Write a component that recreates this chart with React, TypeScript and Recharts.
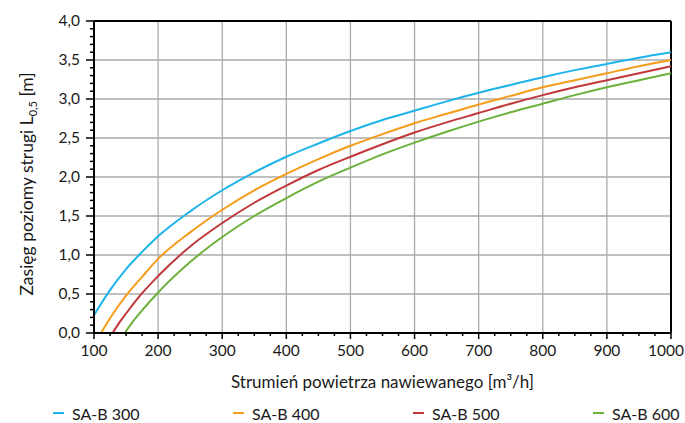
import React from 'react';
import { LineChart, Line, XAxis, YAxis, CartesianGrid, ReferenceLine } from 'recharts';

const FONT = 'Lato, "DejaVu Sans", sans-serif';
const TEXT = '#1a1a1a';

// Tick values
const xMajorTicks = [100, 200, 300, 400, 500, 600, 700, 800, 900, 1000];
const yMajorTicks = [0, 0.5, 1, 1.5, 2, 2.5, 3, 3.5, 4];
const xAllTicks = Array.from({ length: 37 }, (_, i) => 100 + i * 25);
const yAllTicks = Array.from({ length: 41 }, (_, i) => Math.round(i) / 10);

// Series: [air flow m3/h, range m]
const sab300: [number, number][] = [
  [100, 0.23], [125, 0.55], [150, 0.82], [175, 1.04], [200, 1.24], [250, 1.56], [300, 1.83],
  [350, 2.06], [400, 2.26], [450, 2.43], [500, 2.59], [550, 2.73], [600, 2.85], [650, 2.97],
  [700, 3.08], [750, 3.18], [800, 3.28], [850, 3.37], [900, 3.45], [950, 3.53], [1000, 3.6],
];
const sab400: [number, number][] = [
  [111, 0], [125, 0.19], [150, 0.48], [175, 0.72], [200, 0.95], [250, 1.29], [300, 1.58],
  [350, 1.83], [400, 2.04], [450, 2.23], [500, 2.4], [550, 2.55], [600, 2.69], [650, 2.81],
  [700, 2.93], [750, 3.04], [800, 3.15], [850, 3.24], [900, 3.33], [950, 3.42], [1000, 3.5],
];
const sab500: [number, number][] = [
  [129, 0], [140, 0.14], [150, 0.25], [175, 0.51], [200, 0.73], [250, 1.11], [300, 1.41],
  [350, 1.67], [400, 1.89], [450, 2.09], [500, 2.26], [550, 2.42], [600, 2.57], [650, 2.7],
  [700, 2.82], [750, 2.94], [800, 3.05], [850, 3.15], [900, 3.24], [950, 3.33], [1000, 3.42],
];
const sab600: [number, number][] = [
  [148, 0], [160, 0.14], [175, 0.29], [200, 0.52], [250, 0.91], [300, 1.23], [350, 1.5],
  [400, 1.73], [450, 1.94], [500, 2.12], [550, 2.29], [600, 2.44], [650, 2.58], [700, 2.71],
  [750, 2.83], [800, 2.94], [850, 3.05], [900, 3.15], [950, 3.24], [1000, 3.33],
];

const seriesNames = ['SA-B 300', 'SA-B 400', 'SA-B 500', 'SA-B 600'];
const seriesColors = ['#1db4ea', '#f59c1a', '#c1373a', '#6cb13c'];
const seriesData = [sab300, sab400, sab500, sab600];

const toPoints = (arr: [number, number][]) => arr.map(([x, y]) => ({ x, y }));

const isMajorX = (v: number) => v % 100 === 0;
const isMajorY = (v: number) => Math.abs(v * 2 - Math.round(v * 2)) < 1e-6;

const XTick = (props: any) => {
  const { x, y, payload } = props;
  const v = payload.value;
  const major = isMajorX(v);
  const last = v === 1000;
  return (
    <g>
      <line x1={x} x2={x} y1={y} y2={y + (major ? 6 : 3)} stroke="#000" strokeWidth={1.5} />
      {major && (
        <text
          x={last ? x + 13 : x}
          y={y + 23}
          textAnchor={last ? 'end' : 'middle'}
          fontSize={15.5}
          fill={TEXT}
          fontFamily={FONT}
        >
          {v}
        </text>
      )}
    </g>
  );
};

const YTick = (props: any) => {
  const { x, y, payload } = props;
  const v = payload.value;
  const major = isMajorY(v);
  return (
    <g>
      <line x1={x - (major ? 8 : 4)} x2={x} y1={y} y2={y} stroke="#000" strokeWidth={1.5} />
      {major && (
        <text x={x - 14} y={y + 5} textAnchor="end" fontSize={15.5} fill={TEXT} fontFamily={FONT}>
          {v.toFixed(1).replace('.', ',')}
        </text>
      )}
    </g>
  );
};

const YLabel = (props: any) => {
  const vb = props.viewBox || { x: 0, y: 21, width: 94, height: 312 };
  const cy = vb.y + vb.height / 2 + 7;
  return (
    <text
      transform={`translate(33, ${cy}) rotate(-90)`}
      textAnchor="middle"
      fontSize={17.5}
      fill={TEXT}
      fontFamily={FONT}
    >
      Zasięg poziomy strugi L
      <tspan fontSize={11} dy={4}>0,5</tspan>
      <tspan dy={-4}> [m]</tspan>
    </text>
  );
};

const XLabel = (props: any) => {
  const vb = props.viewBox || { x: 94, y: 333, width: 577, height: 90 };
  return (
    <text
      x={vb.x + vb.width / 2}
      y={vb.y + 55}
      textAnchor="middle"
      fontSize={17}
      fill={TEXT}
      fontFamily={FONT}
    >
      Strumień powietrza nawiewanego [m³/h]
    </text>
  );
};

const legendLeft = [53, 233, 413, 593];

export default function App() {
  return (
    <div style={{ position: 'absolute', left: 0, top: 0, width: 685, height: 423, background: '#fff' }}>
      <LineChart width={685} height={423} margin={{ top: 21, right: 14, bottom: 0, left: 0 }}>
        <CartesianGrid
          stroke="#ababab"
          strokeWidth={1.3}
          horizontalValues={yMajorTicks}
          verticalValues={xMajorTicks}
        />
        <XAxis
          dataKey="x"
          type="number"
          domain={[100, 1000]}
          ticks={xAllTicks}
          interval={0}
          allowDuplicatedCategory={false}
          tickLine={false}
          tickSize={0}
          tickMargin={0}
          tick={<XTick />}
          axisLine={{ stroke: '#000', strokeWidth: 2 }}
          height={90}
          label={<XLabel />}
        />
        <YAxis
          type="number"
          domain={[0, 4]}
          ticks={yAllTicks}
          interval={0}
          tickLine={false}
          tickSize={0}
          tickMargin={0}
          tick={<YTick />}
          axisLine={{ stroke: '#000', strokeWidth: 2 }}
          width={94}
          label={<YLabel />}
        />
        <ReferenceLine y={4} stroke="#000" strokeWidth={2} />
        <ReferenceLine x={1000} stroke="#000" strokeWidth={2} />
        {seriesData.map((d, i) => (
          <Line
            key={seriesNames[i]}
            data={toPoints(d)}
            dataKey="y"
            name={seriesNames[i]}
            type="monotone"
            stroke={seriesColors[i]}
            strokeWidth={2}
            dot={false}
            activeDot={false}
            isAnimationActive={false}
          />
        ))}
      </LineChart>
      {seriesNames.map((n, i) => (
        <div
          key={n}
          style={{
            position: 'absolute',
            left: legendLeft[i],
            top: 403,
            height: 20,
            display: 'flex',
            alignItems: 'center',
            fontFamily: FONT,
            fontSize: 16,
            color: TEXT,
            whiteSpace: 'nowrap',
          }}
        >
          <span style={{ display: 'inline-block', width: 11, height: 2, background: seriesColors[i], marginRight: 8 }} />
          <span>{n}</span>
        </div>
      ))}
    </div>
  );
}
